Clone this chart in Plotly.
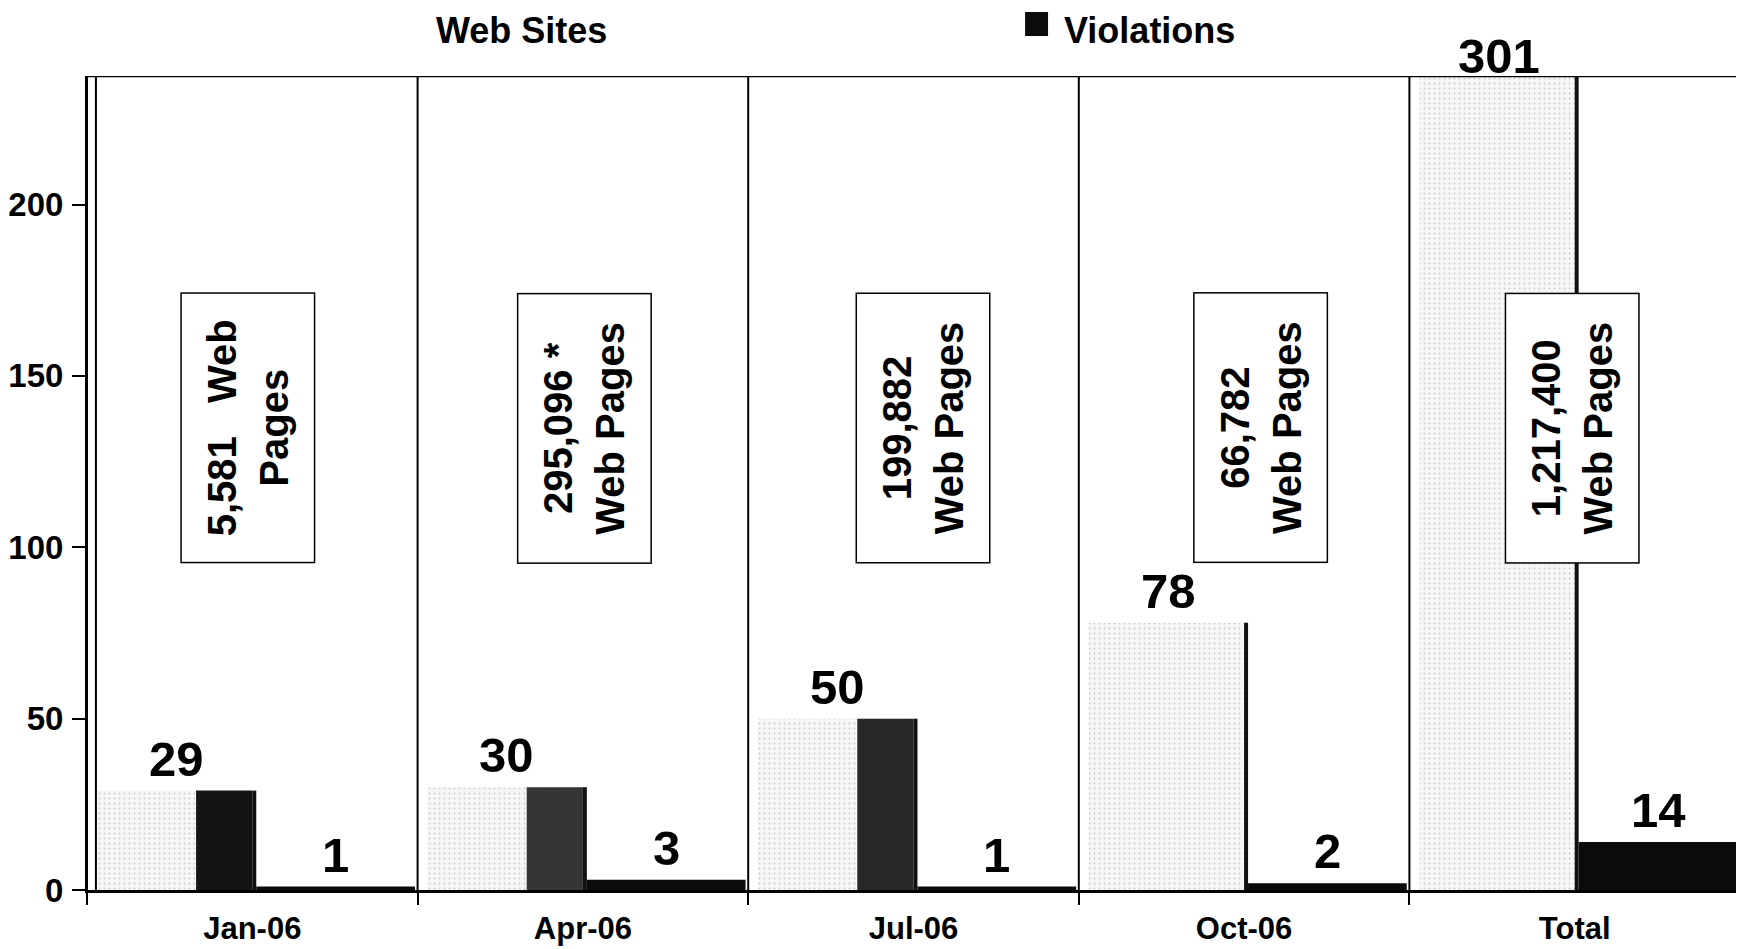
import plotly.graph_objects as go

categories = ["Jan-06", "Apr-06", "Jul-06", "Oct-06", "Total"]
web_sites = [29, 30, 50, 78, 301]
violations = [1, 3, 1, 2, 14]
web_pages_labels = [
    "5,581   Web<br>Pages",
    "295,096 *<br>Web Pages",
    "199,882<br>Web Pages",
    "66,782<br>Web Pages",
    "1,217,400<br>Web Pages",
]
y_ticks = [0, 50, 100, 150, 200]
legend_labels = ["Web Sites", "Violations"]

Y_MAX = 237.5
BOX_Y = 134.8
FONT = "Liberation Sans, Arial, sans-serif"

WEB_OFF, WEB_W = -0.47, 0.48
VIO_OFF, VIO_W = 0.012, 0.48
shade_colors = ["#141414", "#353535", "#282828", "rgba(0,0,0,0)", "rgba(0,0,0,0)"]
box_xshift = [-4, 2, 10, 17, -2]

fig = go.Figure()
fig.add_bar(
    x=categories, y=web_sites, name=legend_labels[0], offset=WEB_OFF, width=WEB_W,
    marker=dict(color="#f6f6f6", line=dict(width=0),
                pattern=dict(shape=".", fgcolor="#a0a0a0", size=5, solidity=0.1)),
    showlegend=False,
)
fig.add_bar(
    x=categories, y=web_sites, offset=-0.17, width=0.17,
    marker=dict(color=shade_colors, line=dict(width=0)), showlegend=False,
)
fig.add_bar(
    x=categories, y=web_sites, offset=0.0, width=0.012,
    marker=dict(color="#111111", line=dict(width=0)), showlegend=False,
)
fig.add_bar(
    x=categories, y=violations, name=legend_labels[1], offset=VIO_OFF, width=VIO_W,
    marker=dict(color="#0b0b0b", line=dict(width=0)), showlegend=False,
)

annotations = []
web_center = WEB_OFF + WEB_W / 2
vio_center = VIO_OFF + VIO_W / 2
for i, v in enumerate(web_sites):
    clipped = v > Y_MAX
    annotations.append(dict(
        x=i + web_center, y=min(v, Y_MAX), xref="x", yref="y",
        text="<b>%d</b>" % v, showarrow=False, yanchor="bottom",
        yshift=-9 if clipped else 3,
        font=dict(family=FONT, size=49, color="black"),
    ))
for i, v in enumerate(violations):
    annotations.append(dict(
        x=i + vio_center, y=v, xref="x", yref="y",
        text="<b>%d</b>" % v, showarrow=False, yanchor="bottom", yshift=3,
        font=dict(family=FONT, size=49, color="black"),
    ))
for i, t in enumerate(web_pages_labels):
    annotations.append(dict(
        x=i, y=BOX_Y, xref="x", yref="y", text="<b>%s</b>" % t, showarrow=False,
        textangle=-90, align="center", width=262, height=126, xshift=box_xshift[i],
        bordercolor="black", borderwidth=1.5, borderpad=3, bgcolor="white",
        font=dict(family=FONT, size=40, color="black"),
    ))
annotations.append(dict(
    x=0.263, y=1.0565, xref="paper", yref="paper", text="<b>%s</b>" % legend_labels[0],
    showarrow=False, xanchor="center", yanchor="middle",
    font=dict(family=FONT, size=36, color="black"),
))
annotations.append(dict(
    x=0.6425, y=1.0565, xref="paper", yref="paper", text="<b>%s</b>" % legend_labels[1],
    showarrow=False, xanchor="center", yanchor="middle",
    font=dict(family=FONT, size=36, color="black"),
))

shapes = []
for i in range(len(categories)):
    shapes.append(dict(type="line", xref="x", yref="y", x0=i - 0.5, x1=i - 0.5,
                       y0=0, y1=Y_MAX, line=dict(color="black", width=2)))
shapes.append(dict(type="line", xref="paper", yref="y", x0=0, x1=1, y0=Y_MAX, y1=Y_MAX,
                   line=dict(color="black", width=2.5)))
shapes.append(dict(type="line", xref="paper", yref="y", x0=0.0054, x1=0.0054, y0=0, y1=Y_MAX,
                   line=dict(color="black", width=2)))
# legend swatch for Violations
shapes.append(dict(type="rect", xref="paper", yref="paper", x0=0.5675, x1=0.5814,
                   y0=1.0491, y1=1.0786, fillcolor="#0b0b0b", line=dict(width=0)))

fig.update_layout(
    width=1736, height=941,
    margin=dict(l=79, r=4, t=68, b=59),
    paper_bgcolor="white", plot_bgcolor="white",
    barmode="overlay",
    font=dict(family=FONT, color="black"),
    annotations=annotations, shapes=shapes,
    xaxis=dict(
        type="category", range=[-0.5, len(categories) - 0.5],
        showline=True, linecolor="black", linewidth=2.5,
        ticks="outside", tickson="boundaries", ticklen=12, tickwidth=2, tickcolor="black",
        showgrid=False, zeroline=False, automargin=False,
        tickfont=dict(family=FONT, size=31, color="black", weight="bold"),
        ticklabelstandoff=9,
    ),
    yaxis=dict(
        range=[0, Y_MAX], tickvals=y_ticks,
        showline=True, linecolor="black", linewidth=2,
        ticks="outside", ticklen=13, tickwidth=2, tickcolor="black",
        showgrid=False, zeroline=False, automargin=False,
        tickfont=dict(family=FONT, size=33, color="black", weight="bold"),
        ticklabelstandoff=2,
    ),
)

fig.write_html("out.html")
